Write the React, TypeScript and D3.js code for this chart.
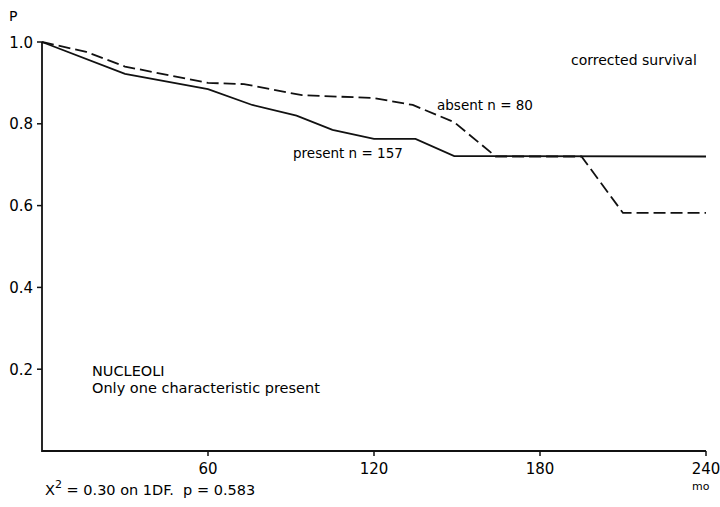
import React, { useEffect, useRef } from 'react';
import * as d3 from 'd3';

// survival curves (months, proportion surviving)
const presentMonths = [0, 30, 60, 76, 92, 105, 120, 135, 149, 240];
const presentP = [1.0, 0.922, 0.885, 0.846, 0.82, 0.785, 0.763, 0.763, 0.721, 0.72];

const absentMonths = [0, 16, 30, 60, 73, 94, 120, 134, 149, 164, 195, 210, 240];
const absentP = [1.0, 0.976, 0.94, 0.9, 0.897, 0.87, 0.863, 0.846, 0.804, 0.72, 0.72, 0.582, 0.582];

const xTicks = [60, 120, 180, 240];
const yTicks = [0.2, 0.4, 0.6, 0.8, 1.0];

const App = () => {
  const chartRef = useRef<SVGSVGElement | null>(null);

  useEffect(() => {
    const width = 720;
    const height = 507;
    const font = '"DejaVu Sans", sans-serif';

    const svg = d3.select(chartRef.current)
      .attr('width', width)
      .attr('height', height);
    svg.selectAll('*').remove();

    const x = d3.scaleLinear().domain([0, 240]).range([42, 706]);
    const y = d3.scaleLinear().domain([0, 1]).range([451, 42]);

    // axes drawn by hand: plain L-shaped frame with small ticks
    svg.append('path')
      .attr('d', `M${x(0)},${y(1)}V${y(0)}H${x(240)}`)
      .attr('fill', 'none')
      .attr('stroke', '#111')
      .attr('stroke-width', 1.8);

    svg.selectAll('.xtick')
      .data(xTicks)
      .enter()
      .append('line')
      .attr('x1', d => x(d))
      .attr('x2', d => x(d))
      .attr('y1', y(0))
      .attr('y2', y(0) + 5)
      .attr('stroke', '#111')
      .attr('stroke-width', 1.5);

    svg.selectAll('.xlabel')
      .data(xTicks)
      .enter()
      .append('text')
      .attr('x', d => x(d))
      .attr('y', 474)
      .attr('text-anchor', 'middle')
      .style('font-family', font)
      .style('font-size', '15px')
      .text(d => d);

    svg.selectAll('.ytick')
      .data(yTicks)
      .enter()
      .append('line')
      .attr('x1', x(0) - 5)
      .attr('x2', x(0))
      .attr('y1', d => y(d))
      .attr('y2', d => y(d))
      .attr('stroke', '#111')
      .attr('stroke-width', 1.5);

    svg.selectAll('.ylabel')
      .data(yTicks)
      .enter()
      .append('text')
      .attr('x', 33)
      .attr('y', d => y(d) + 5.5)
      .attr('text-anchor', 'end')
      .style('font-family', font)
      .style('font-size', '15px')
      .text(d => d.toFixed(1));

    const line = d3.line<[number, number]>()
      .x(d => x(d[0]))
      .y(d => y(d[1]));

    const present = presentMonths.map((m, i) => [m, presentP[i]] as [number, number]);
    const absent = absentMonths.map((m, i) => [m, absentP[i]] as [number, number]);

    svg.append('path')
      .attr('d', line(present))
      .attr('fill', 'none')
      .attr('stroke', '#111')
      .attr('stroke-width', 1.8);

    svg.append('path')
      .attr('d', line(absent))
      .attr('fill', 'none')
      .attr('stroke', '#111')
      .attr('stroke-width', 1.8)
      .attr('stroke-dasharray', '12 5');

    const label = (tx: number, ty: number, s: string, size = 14) =>
      svg.append('text')
        .attr('x', tx)
        .attr('y', ty)
        .style('font-family', font)
        .style('font-size', `${size}px`)
        .style('white-space', 'pre')
        .text(s);

    label(9, 21, 'P', 14);
    label(571, 65, 'corrected survival', 14);
    label(437, 110, 'absent n = 80', 13.5);
    label(293, 158, 'present n = 157', 13.5);
    label(92, 376, 'NUCLEOLI', 14.5);
    label(92, 393, 'Only one characteristic present', 14.5);
    label(692, 490, 'mo', 11);

    // chi-square note with superscript
    const chi = svg.append('text')
      .attr('x', 45)
      .attr('y', 495)
      .style('font-family', font)
      .style('font-size', '14.5px')
      .style('white-space', 'pre');
    chi.append('tspan').text('X');
    chi.append('tspan').attr('dy', -7).style('font-size', '11px').text('2');
    chi.append('tspan').attr('dy', 7).text(' = 0.30 on 1DF.  p = 0.583');
  }, []);

  return (
    <svg ref={chartRef} style={{ position: 'absolute', left: 0, top: 0, background: '#fff' }}></svg>
  );
};

export default App;
